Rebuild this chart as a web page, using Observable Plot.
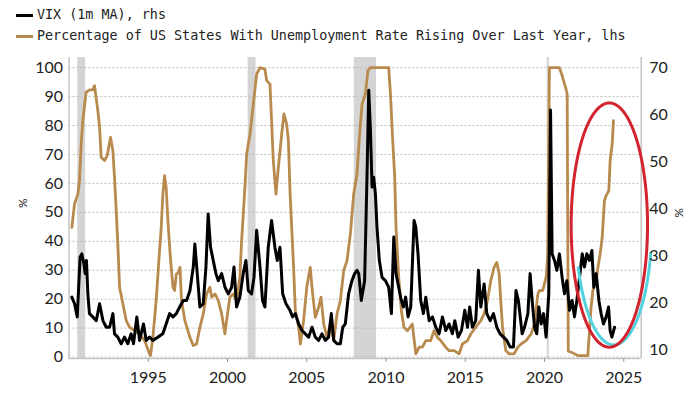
<!DOCTYPE html>
<html><head><meta charset="utf-8">
<script src="https://cdn.jsdelivr.net/npm/d3@7"></script>
<script src="https://cdn.jsdelivr.net/npm/@observablehq/plot@0.6"></script>
<style>
body{margin:0;background:#fff;width:700px;height:394px;overflow:hidden}
#legend{height:48px;position:relative;font-family:"DejaVu Sans Mono",monospace;font-size:13.4px;color:#222}
.item{position:absolute;left:16px;height:16px;line-height:16px;display:flex;align-items:center;white-space:nowrap}
.sw{width:17px;height:3px;margin-right:4px}
</style></head>
<body>
<div id="legend">
  <div class="item" style="top:7px"><span class="sw" style="background:#000"></span>VIX (1m MA), rhs</div>
  <div class="item" style="top:28px"><span class="sw" style="background:#b98a4e"></span>Percentage of US States With Unemployment Rate Rising Over Last Year, lhs</div>
</div>
<div id="chart"></div>
<script>
// ---- Data ----
const unempYear = [1990.18,1990.35,1990.56,1990.66,1990.77,1990.87,1991.08,1991.3,1991.5,1991.61,1991.82,1991.93,1992.03,1992.24,1992.41,1992.62,1992.77,1992.87,1992.98,1993.08,1993.19,1993.4,1993.61,1993.82,1994.13,1994.45,1994.77,1995.08,1995.14,1995.29,1995.5,1995.67,1995.82,1995.92,1996.03,1996.13,1996.24,1996.41,1996.56,1996.66,1996.77,1996.88,1997.0,1997.1,1997.31,1997.63,1997.84,1998.05,1998.26,1998.47,1998.68,1998.89,1999.0,1999.21,1999.42,1999.63,1999.84,1999.94,2000.15,2000.36,2000.57,2000.78,2000.89,2001.1,2001.21,2001.42,2001.63,2001.84,2002.05,2002.36,2002.47,2002.68,2002.78,2002.89,2003.06,2003.21,2003.42,2003.56,2003.73,2003.84,2003.95,2004.07,2004.17,2004.28,2004.49,2004.6,2004.8,2005.0,2005.22,2005.37,2005.54,2005.75,2005.9,2006.07,2006.28,2006.49,2006.7,2006.91,2007.12,2007.33,2007.54,2007.75,2007.96,2008.17,2008.32,2008.49,2008.7,2008.86,2009.01,2010.17,2010.28,2010.38,2010.55,2010.63,2010.8,2010.97,2011.13,2011.35,2011.66,2011.88,2012.09,2012.3,2012.51,2012.82,2013.03,2013.24,2013.45,2013.77,2013.98,2014.3,2014.61,2014.82,2015.14,2015.35,2015.66,2015.98,2016.19,2016.4,2016.61,2016.82,2016.99,2017.14,2017.24,2017.35,2017.56,2017.77,2018.08,2018.31,2018.52,2018.84,2019.16,2019.37,2019.58,2019.68,2019.89,2020.1,2020.2,2020.31,2020.94,2021.11,2021.2,2021.33,2021.43,2021.5,2021.68,2022.1,2022.73,2022.94,2023.05,2023.26,2023.37,2023.51,2023.64,2023.78,2023.89,2024.06,2024.14,2024.27,2024.35];
const unempPct = [44.8,52.9,56.3,61,73.6,81.7,91.5,92.3,92.3,93.8,85.1,79.4,69,67.9,69.6,75.9,71.3,62.1,50.6,39.1,24.1,18.3,12.6,10.3,9.1,8,5.7,1.1,0.5,6.8,19.5,33.3,44.8,56.3,62.7,58.6,47.1,33.3,24.1,23,28.7,29,31,19.5,12.6,6.8,4,4.5,10.3,14.9,21.8,24.1,20.7,21.8,19.5,14.9,8,12.6,20.7,21.8,19.5,27.6,40.2,58.6,70.2,77.1,87.4,97.8,100,99.5,95.5,94.3,81.7,67.9,56.3,65.6,77.1,84,80.5,75,56.3,42.5,31,16,10.3,4.5,12.6,24.1,31,21.8,13.7,17.2,20.7,11.4,6.8,11.4,5.7,14.9,19.5,29.8,33.3,42.5,56.3,63.3,75.9,87.4,90.9,99,100,100,90.9,79.4,62.1,44.8,27.6,16,10.3,9.1,11.4,1.1,3.4,3.4,5.7,5.7,9.1,6.8,5.7,3.4,2.2,2.2,1.1,4.5,5.7,8,10.3,12.6,14.9,19.5,26.4,31,32.7,28.7,19.5,10.3,2.2,1.1,1.1,3.4,4.5,5.7,8,11.4,21.8,23,23,27.6,34.5,100,100,97.3,95.5,93.2,90.9,2,1.7,0.5,0.5,17.2,23,26.4,31,35.6,41.4,54,55.8,57.5,67.9,73.6,81.7];

const vixYear = [1990.18,1990.35,1990.52,1990.6,1990.7,1990.81,1990.94,1991.02,1991.1,1991.19,1991.29,1991.5,1991.72,1991.93,1992.14,1992.35,1992.56,1992.77,1992.87,1993.08,1993.29,1993.5,1993.71,1993.92,1994.07,1994.28,1994.45,1994.7,1994.87,1995.08,1995.29,1995.61,1995.92,1996.13,1996.35,1996.56,1996.77,1996.98,1997.21,1997.42,1997.63,1997.84,1997.94,1998.09,1998.26,1998.47,1998.64,1998.78,1998.93,1999.1,1999.27,1999.42,1999.63,1999.84,2000.05,2000.26,2000.41,2000.57,2000.78,2000.99,2001.16,2001.31,2001.52,2001.67,2001.84,2002.05,2002.21,2002.36,2002.57,2002.78,2002.99,2003.14,2003.31,2003.48,2003.69,2003.94,2004.11,2004.28,2004.49,2004.7,2004.91,2005.12,2005.33,2005.54,2005.75,2005.96,2006.17,2006.38,2006.55,2006.7,2006.91,2007.12,2007.27,2007.43,2007.64,2007.85,2008.02,2008.17,2008.28,2008.44,2008.65,2008.8,2008.91,2009.01,2009.12,2009.22,2009.33,2009.43,2009.58,2009.75,2009.96,2010.17,2010.34,2010.49,2010.63,2010.8,2010.93,2011.1,2011.24,2011.39,2011.56,2011.77,2011.88,2012.02,2012.19,2012.36,2012.51,2012.72,2012.93,2013.14,2013.35,2013.56,2013.77,2013.98,2014.19,2014.34,2014.55,2014.76,2014.97,2015.14,2015.28,2015.45,2015.66,2015.83,2015.98,2016.19,2016.36,2016.57,2016.78,2016.99,2017.2,2017.41,2017.62,2017.83,2018.04,2018.2,2018.35,2018.59,2018.74,2018.95,2019.09,2019.22,2019.37,2019.51,2019.64,2019.79,2019.94,2020.1,2020.27,2020.38,2020.48,2020.63,2020.78,2020.94,2021.11,2021.26,2021.41,2021.58,2021.74,2021.89,2022.04,2022.21,2022.38,2022.52,2022.67,2022.84,2022.99,2023.11,2023.26,2023.43,2023.57,2023.72,2023.89,2024.04,2024.14,2024.25,2024.42];
const vixValue = [21.2,19.8,17,22.6,29.7,30.4,28.3,26.2,29,21.9,17.7,17,16.2,19.8,16.2,14.8,14.8,17.7,13.4,12.7,11.3,12.7,11.3,13.4,11.3,17,12,15.5,12,12.7,12,12.7,13.4,15.5,17.7,17,17.7,19.1,20.5,20.5,22.6,27.6,32.5,26.2,19.1,19.8,27.6,38.9,31.8,29,26.2,24.7,26.2,23.3,21.9,23.3,27.6,19.1,21.2,26.2,29,22.6,21.9,25.4,35.4,27.6,20.5,19.1,31.8,37.5,31.8,29,31.8,21.9,19.8,18.4,17,17.7,15.5,14.1,13.4,12.7,14.8,12.7,12,13.4,12,12.7,17.7,12,11.3,11.3,14.8,15.5,21.9,24.7,26.2,26.9,26.2,20.5,24.7,46.7,65.2,57.4,44.6,46.7,43.2,36.1,29,25.4,24.7,23.3,17.7,34,26.2,23.3,21,19.1,21.2,17,19.1,37.5,36.1,30.4,20.5,17.7,21.2,16.2,17,14.8,13.4,17,14.1,15.5,13.4,16.2,12.7,14.1,18.4,14.8,19.1,14.8,16.2,26.9,19.1,24,17.7,16.2,17.7,14.8,13.4,12.7,12,10.6,10.6,22.6,20.5,13.4,14.8,17.7,26.2,20.5,14.8,13.4,19.1,15.5,17.7,12.7,21.9,61,30.4,29,26.9,30.4,25.4,21.9,24.7,18.4,20.5,17,20.5,25.4,30.4,27.6,30.4,29,31.1,23.3,26.2,20.5,17.7,15.5,17,19.1,14.1,12.7,14.8];

const recessionStart = [1990.55, 2001.3, 2008.0, 2020.17];
const recessionEnd   = [1991.05, 2001.8, 2009.4, 2020.3];

const xTicks = [1995, 2000, 2005, 2010, 2015, 2020, 2025];
const leftTicks = [0, 10, 20, 30, 40, 50, 60, 70, 80, 90, 100];
const rightTicks = [10, 20, 30, 40, 50, 60, 70];

// Annotation ellipse (data units: year, lhs %)
const ellipseCenter = [2024.09, 45.6];
const ellipseRadius = [2.41, 42.2];

// ---- Helpers ----
const toLeft = v => 2.5 + (v - 10) * 1.625;       // rhs value -> lhs position
const fromLeft = l => (l - 2.5) / 1.625 + 10;

function ellipsePts(cx, cy, rx, ry, a0, a1, n) {
  const pts = [];
  for (let i = 0; i <= n; i++) {
    const a = a0 + (a1 - a0) * i / n;
    pts.push([cx + rx * Math.cos(a), cy + ry * Math.sin(a)]);
  }
  return pts;
}
const redPts = ellipsePts(ellipseCenter[0], ellipseCenter[1], ellipseRadius[0], ellipseRadius[1], 0, 2 * Math.PI, 120);
const cyanPts = ellipsePts(ellipseCenter[0] + 0.28, ellipseCenter[1] + 0.8, ellipseRadius[0], ellipseRadius[1], Math.PI * 1.12, Math.PI * 1.92, 60);

const BROWN = "#b98a4e";
const recIdx = recessionStart.map((d, i) => i);

const chart = Plot.plot({
  width: 700,
  height: 346,
  marginTop: 9,
  marginBottom: 36,
  marginLeft: 68.5,
  marginRight: 59.3,
  style: {fontFamily: "Lato, 'Open Sans', sans-serif", background: "#fff", color: "#222"},
  x: {domain: [1990, 2026.1]},
  y: {domain: [-0.5, 103.5]},
  marks: [
    Plot.rect(recIdx, {x1: i => recessionStart[i], x2: i => recessionEnd[i], y1: -0.5, y2: 103.5, fill: "#d4d4d4"}),
    Plot.ruleY(leftTicks, {stroke: "#bdbdbd", strokeDasharray: "2,2", strokeWidth: 1}),
    Plot.ruleX([1990, 2026.1], {y1: -0.5, y2: 103.5, stroke: "#c4c4c4", strokeWidth: 1.5}),
    Plot.ruleY([-0.5], {stroke: "#c4c4c4", strokeWidth: 1.5}),
    Plot.line(unempYear, {x: unempYear, y: unempPct, stroke: BROWN, strokeWidth: 2.8, strokeLinejoin: "round"}),
    Plot.line(vixYear, {x: vixYear, y: vixValue.map(toLeft), stroke: "#000", strokeWidth: 3, strokeLinejoin: "round"}),
    Plot.line(cyanPts, {x: d => d[0], y: d => d[1], stroke: "#55d2df", strokeWidth: 3}),
    Plot.line(redPts, {x: d => d[0], y: d => d[1], stroke: "#d3232f", strokeWidth: 3}),
    Plot.axisY({ticks: leftTicks, tickSize: 0, tickPadding: 6, fontSize: 16, label: null}),
    Plot.axisY({anchor: "right", ticks: rightTicks.map(toLeft), tickFormat: l => Math.round(fromLeft(l)), tickSize: 0, tickPadding: 8, fontSize: 16, label: null}),
    Plot.axisX({ticks: xTicks, tickFormat: d => String(d), tickSize: 4, stroke: "#999", tickPadding: 9, fontSize: 16, label: null}),
    Plot.text(["%"], {frameAnchor: "left", dx: -46, rotate: -90, fontSize: 12, fill: "#222"}),
    Plot.text(["%"], {frameAnchor: "right", dx: 38, rotate: -90, fontSize: 12, fill: "#222"})
  ]
});
document.getElementById("chart").appendChild(chart);
</script>
</body></html>
